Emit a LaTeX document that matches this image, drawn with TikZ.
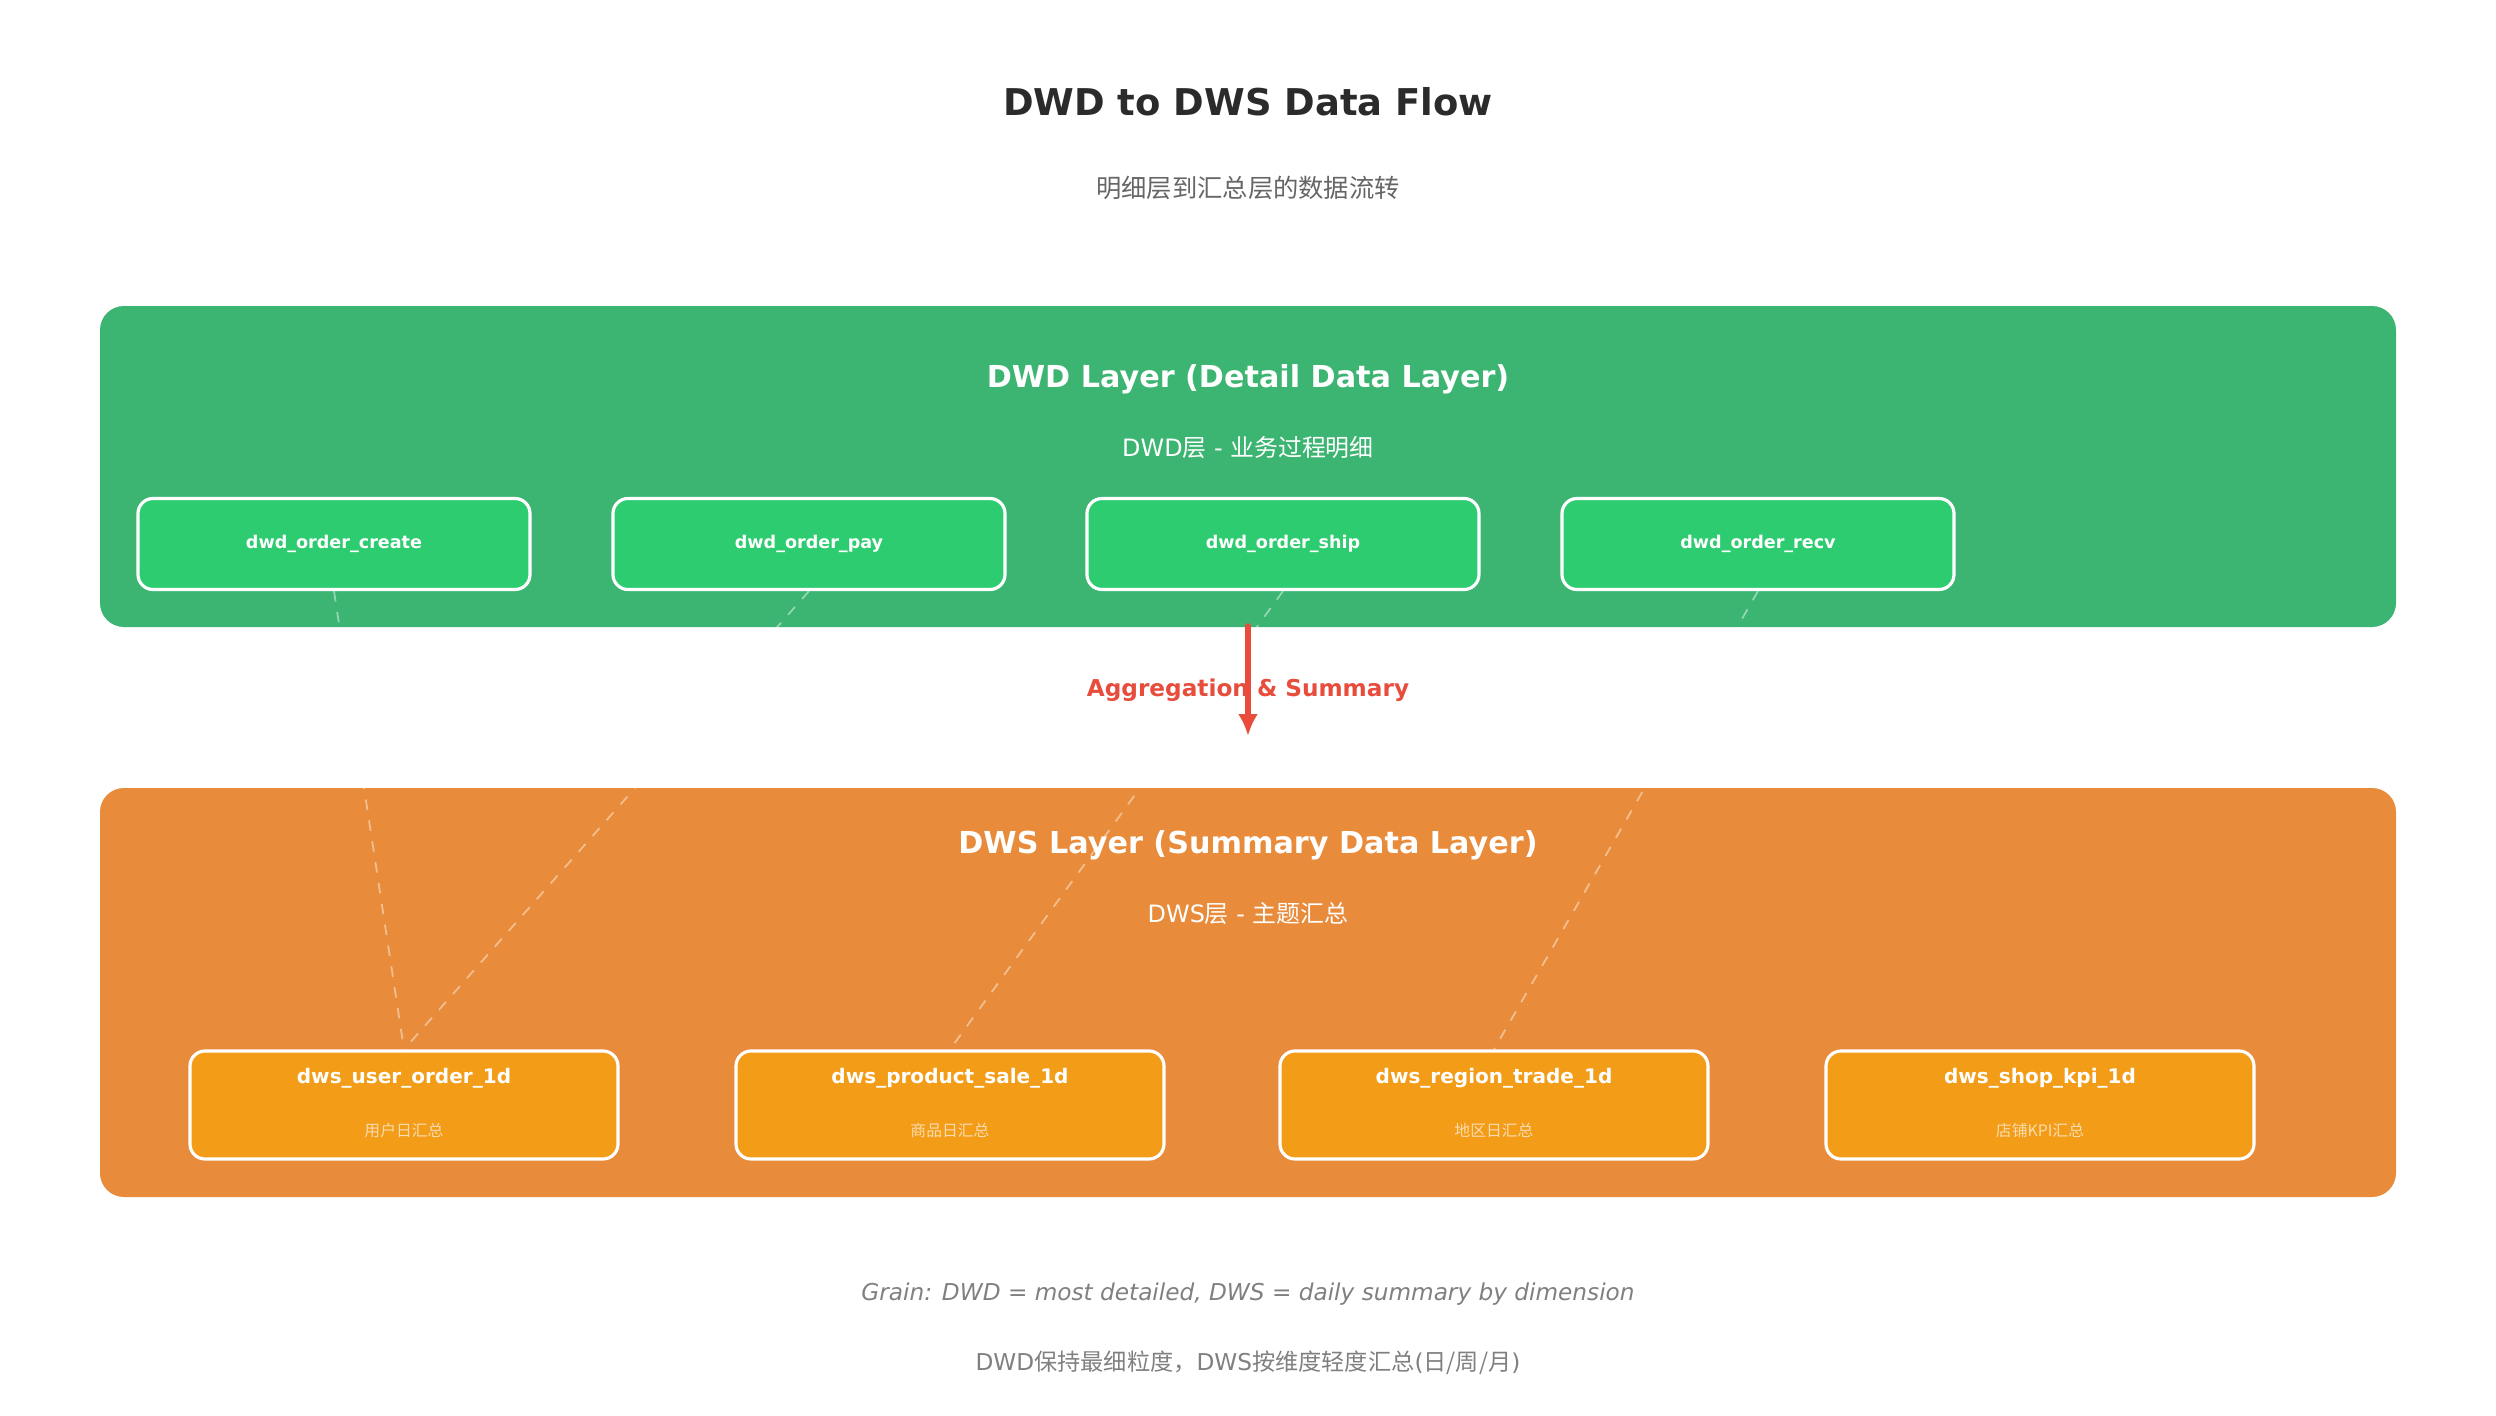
\documentclass[tikz,border=0pt]{standalone}
\usepackage{fontspec}
\setmainfont{DejaVu Sans}
\newfontfamily\cjk{Noto Sans CJK SC}
\usetikzlibrary{arrows.meta}
\begin{document}
\begin{tikzpicture}[x=0.1mm,y=-0.1mm,
  panel/.style={rounded corners=2.4mm,inner sep=0},
  dwd/.style={draw=white,line width=0.9pt,fill=dwdbox,rounded corners=1.5mm,minimum width=392*0.1mm,minimum height=91*0.1mm,font=\fontsize{5}{6}\selectfont\bfseries,text=white},
  dws/.style={draw=white,line width=0.9pt,fill=dwsbox,rounded corners=1.5mm,minimum width=428*0.1mm,minimum height=108*0.1mm},
  link/.style={white,opacity=0.45,dashed,line width=0.5pt}]
\definecolor{gpanel}{HTML}{3DB572}
\definecolor{dwdbox}{HTML}{2ECC71}
\definecolor{opanel}{HTML}{E88B3A}
\definecolor{dwsbox}{HTML}{F39C17}
\definecolor{redc}{HTML}{E74C3C}
\useasboundingbox (0,0) rectangle (2496,1416);
\fill[white] (0,0) rectangle (2496,1416);
\node[font=\fontsize{10.5}{12}\selectfont\bfseries,text=black!83] (title) at (1248,102) {DWD to DWS Data Flow};
\node[font=\fontsize{7.2}{9}\selectfont\cjk,text=black!60] (sub) at (1248,188) {明细层到汇总层的数据流转};
\fill[gpanel,panel] (100,306) rectangle (2396,627);
\node[font=\fontsize{8.6}{10}\selectfont\bfseries,text=white] (dwdt) at (1248,379) {DWD Layer (Detail Data Layer)};
\node[font=\fontsize{6.8}{8}\selectfont,text=white] (dwds) at (1248,447) {DWD{\cjk 层} - {\cjk 业务过程明细}};
\node[dwd] (a1) at (334,544) {dwd\_order\_create};
\node[dwd] (a2) at (809,544) {dwd\_order\_pay};
\node[dwd] (a3) at (1283,544) {dwd\_order\_ship};
\node[dwd] (a4) at (1758,544) {dwd\_order\_recv};
\fill[opanel,panel] (100,788) rectangle (2396,1197);
\node[font=\fontsize{8.6}{10}\selectfont\bfseries,text=white] (dwst) at (1248,845) {DWS Layer (Summary Data Layer)};
\node[font=\fontsize{6.8}{8}\selectfont,text=white] (dwss) at (1248,914) {DWS{\cjk 层} - {\cjk 主题汇总}};
\foreach \n/\x/\t/\s in {b1/404/dws\_user\_order\_1d/用户日汇总, b2/950/dws\_product\_sale\_1d/商品日汇总, b3/1494/dws\_region\_trade\_1d/地区日汇总, b4/2040/dws\_shop\_kpi\_1d/店铺KPI汇总}{
  \node[dws] (\n) at (\x,1105) {};
  \node[font=\fontsize{5.7}{7}\selectfont\bfseries,text=white] (\n t) at (\x,1078) {\t};
  \node[font=\fontsize{4.5}{6}\selectfont\cjk,text=white!65!dwsbox] (\n s) at (\x,1130) {\s};
}
\draw[link] (a1.south) -- (b1.north);
\draw[link] (a2.south) -- (b1.north);
\draw[link] (a3.south) -- (b2.north);
\draw[link] (a4.south) -- (b3.north);
\coordinate (ar1) at (1248,626);
\coordinate (ar2) at (1248,736);
\node[font=\fontsize{6.6}{8}\selectfont\bfseries,text=redc] (agg) at (1248,690) {Aggregation \& Summary};
\draw[redc,line width=1.6pt,line cap=round,-{Latex[length=2.2mm,width=2mm]}] (ar1) -- (ar2);
\node[font=\fontsize{6.6}{8}\selectfont\itshape,text=black!50] (f1) at (1248,1294) {Grain: DWD = most detailed, DWS = daily summary by dimension};
\node[font=\fontsize{6.6}{8}\selectfont,text=black!50] (f2) at (1248,1363) {DWD{\cjk 保持最细粒度，}DWS{\cjk 按维度轻度汇总}({\cjk 日/周/月})};
\end{tikzpicture}
\end{document}
